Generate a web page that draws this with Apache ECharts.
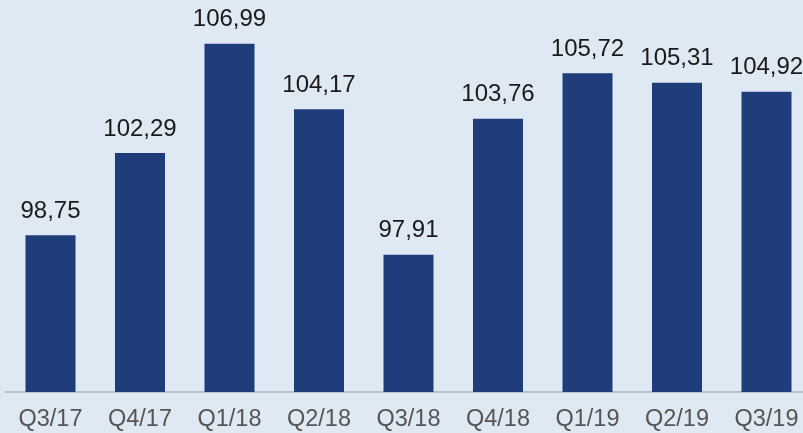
<!DOCTYPE html>
<html><head><meta charset="utf-8">
<script src="https://cdn.jsdelivr.net/npm/echarts@6/dist/echarts.min.js"></script>
<style>html,body{margin:0;padding:0;background:#dfe9f4}#c{width:803px;height:433px}</style>
</head><body><div id="c"></div>
<script>
const categories = ["Q3/17","Q4/17","Q1/18","Q2/18","Q3/18","Q4/18","Q1/19","Q2/19","Q3/19"];
const values = [98.75,102.29,106.99,104.17,97.91,103.76,105.72,105.31,104.92];
const chart = echarts.init(document.getElementById('c'));
chart.setOption({
  backgroundColor:'#dfe9f4',
  animation:false,
  grid:{left:5.75,top:20.2,width:805.5,bottom:41,outerBoundsMode:'none',containLabel:false},
  xAxis:{type:'category',data:categories,
    axisLine:{lineStyle:{color:'#b4bfcf',width:2}},
    axisTick:{show:false},
    axisLabel:{color:'#555',fontSize:23.5,fontFamily:'Liberation Sans, Arial',margin:16}},
  yAxis:{type:'value',min:92,max:108,show:false,splitLine:{show:false}},
  series:[{type:'bar',data:values,barWidth:50,
    itemStyle:{color:'#203d7b'},
    label:{show:true,position:'top',distance:12,color:'#1a1a1a',fontSize:24,fontFamily:'Liberation Sans, Arial',
      formatter:p=>p.value.toFixed(2).replace('.',',')}}]
});
</script></body></html>
